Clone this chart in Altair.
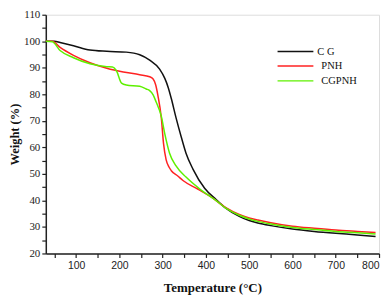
import altair as alt
import pandas as pd

series_names = ["CG", "PNH", "CGPNH"]
legend_labels = ["C G", "PNH", "CGPNH"]
colors = ["#111111", "#ff2222", "#5ef000"]

cg_t = [30, 50, 63, 94, 132, 171, 216, 247, 270, 293, 305, 313, 320, 331, 343, 354, 370, 397, 423, 445, 477, 500, 520, 550, 600, 650, 700, 750, 792]
cg_w = [100, 100, 99.5, 98.3, 96.7, 96.2, 95.9, 94.9, 92.9, 89.5, 86.0, 82.5, 78.4, 71.1, 63.9, 57.8, 51.8, 44.6, 40.4, 37.2, 34.0, 32.4, 31.5, 30.5, 29.2, 28.3, 27.6, 27.0, 26.4]

pnh_t = [30, 45, 63, 94, 132, 171, 209, 247, 270, 278, 284, 289, 297, 302, 308, 315, 320, 335, 347, 381, 410, 446, 477, 500, 520, 550, 600, 650, 700, 750, 792]
pnh_w = [100, 100, 97.7, 94.7, 91.9, 89.8, 88.4, 87.4, 86.6, 85.8, 83.5, 79.6, 71.0, 61.5, 55.4, 52.5, 51.2, 49.2, 47.5, 44.3, 41.5, 37.3, 34.7, 33.4, 32.6, 31.6, 30.3, 29.5, 28.8, 28.3, 27.9]

cgpnh_t = [30, 45, 63, 94, 132, 171, 184, 194, 205, 216, 247, 262, 270, 278, 285, 297, 305, 316, 331, 354, 389, 423, 445, 477, 500, 520, 550, 600, 650, 700, 750, 792]
cgpnh_w = [100, 99.8, 96.5, 93.8, 91.5, 90.4, 90.3, 88.6, 84.2, 83.5, 83.0, 82.0, 81.4, 79.8, 77.1, 71.7, 65.1, 57.8, 53.0, 48.8, 43.9, 40.0, 37.2, 34.4, 33.0, 32.1, 31.1, 29.8, 29.0, 28.3, 27.8, 27.3]

x_ticks = list(range(50, 801, 50))
y_ticks = list(range(20, 111, 5))

rows = []
for name, ts, ws in [("CG", cg_t, cg_w), ("PNH", pnh_t, pnh_w), ("CGPNH", cgpnh_t, cgpnh_w)]:
    for i, (t, w) in enumerate(zip(ts, ws)):
        rows.append({"series": name, "temp": t, "weight": w, "order": i})
df = pd.DataFrame(rows)

serif = "Liberation Serif"
sans = "Liberation Sans"

lines = alt.Chart(df).mark_line(strokeWidth=1.5, interpolate="monotone").encode(
    x=alt.X("temp:Q", scale=alt.Scale(domain=[30, 800], nice=False, zero=False),
            axis=alt.Axis(title="Temperature (°C)", values=x_ticks,
                          labelExpr="datum.value % 100 == 0 ? datum.label : ''",
                          labelFont=sans, labelFontSize=10.5, labelColor="#222",
                          titleFont=serif, titleFontSize=13, titleFontWeight="bold",
                          titleColor="#111", titlePadding=11,
                          grid=False, tickSize=4, tickColor="#222", domainColor="#222",
                          domainWidth=1.5, tickWidth=1.2, labelPadding=3)),
    y=alt.Y("weight:Q", scale=alt.Scale(domain=[20, 110], nice=False, zero=False),
            axis=alt.Axis(title="Weight (%)", values=y_ticks,
                          labelExpr="datum.value % 10 == 0 ? datum.label : ''",
                          labelFont=serif, labelFontSize=11, labelColor="#222",
                          titleFont=serif, titleFontSize=12.5, titleFontWeight="bold",
                          titleColor="#111", titlePadding=2,
                          grid=False, tickSize=4, tickColor="#222", domainColor="#222",
                          domainWidth=1.5, tickWidth=1.2, labelPadding=2)),
    color=alt.Color("series:N", scale=alt.Scale(domain=series_names, range=colors), legend=None),
    order="order:Q",
)

legend_layers = []
leg_y = [37, 51.5, 66.5]
leg_label_x = [273, 277, 277]
for i, name in enumerate(series_names):
    ldf = pd.DataFrame({"label": [legend_labels[i]]})
    legend_layers.append(
        alt.Chart(ldf).mark_rule(color=colors[i], strokeWidth=1.5).encode(
            x=alt.value(233), x2=alt.value(269), y=alt.value(leg_y[i]))
    )
    legend_layers.append(
        alt.Chart(ldf).mark_text(align="left", baseline="middle", font=serif,
                                 fontSize=10.5, color="#111").encode(
            x=alt.value(leg_label_x[i]), y=alt.value(leg_y[i]), text="label:N")
    )

chart = alt.layer(lines, *legend_layers).properties(
    width=335, height=240,
    padding={"left": 38, "top": 6, "right": 5, "bottom": 42},
    autosize=alt.AutoSizeParams(type="none"),
).configure_view(stroke="#222", strokeWidth=1.5).configure(background="white")

chart.save("out.html", embed_options={"renderer": "svg", "actions": False})
